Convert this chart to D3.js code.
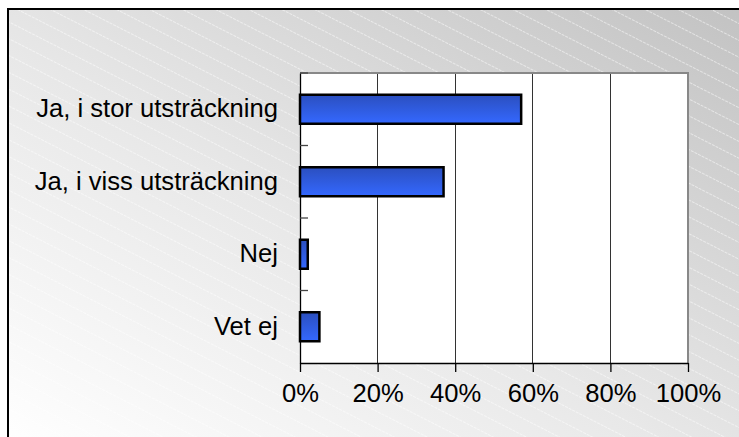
<!DOCTYPE html>
<html><head><meta charset="utf-8">
<script src="https://cdn.jsdelivr.net/npm/d3@7"></script>
<style>html,body{margin:0;padding:0;background:#fff;overflow:hidden}</style>
</head><body>
<svg id="c" width="739" height="437"></svg>
<script>
const categories = ["Ja, i stor utsträckning", "Ja, i viss utsträckning", "Nej", "Vet ej"];
const values = [0.57, 0.37, 0.02, 0.05];
const tickValues = [0, 0.2, 0.4, 0.6, 0.8, 1.0];

const svg = d3.select("#c");
const W = 739, H = 437;
const defs = svg.append("defs");

const bg = defs.append("linearGradient").attr("id","bg")
  .attr("x1","0").attr("y1","1").attr("x2","1").attr("y2","0");
bg.append("stop").attr("offset","0").attr("stop-color","#ffffff");
bg.append("stop").attr("offset","0.45").attr("stop-color","#e8e8e8");
bg.append("stop").attr("offset","1").attr("stop-color","#c2c2c2");

const pat = defs.append("pattern").attr("id","stripes")
  .attr("patternUnits","userSpaceOnUse").attr("width",16).attr("height",15)
  .attr("patternTransform","rotate(27)");
pat.append("line").attr("x1",0).attr("y1",0.5).attr("x2",16).attr("y2",0.5)
  .attr("stroke","#ffffff").attr("stroke-width",1).attr("stroke-opacity",0.5)
  .attr("stroke-dasharray","3,1");

const barGrad = defs.append("linearGradient").attr("id","bar")
  .attr("x1","0").attr("y1","0").attr("x2","0").attr("y2","1");
barGrad.append("stop").attr("offset","0").attr("stop-color","#2b4fbf");
barGrad.append("stop").attr("offset","1").attr("stop-color","#3468ff");

// background frame
svg.append("rect").attr("x",8).attr("y",9).attr("width",W).attr("height",H)
  .attr("fill","url(#bg)").attr("stroke","#000").attr("stroke-width",2);
svg.append("rect").attr("x",9).attr("y",10).attr("width",W).attr("height",H)
  .attr("fill","url(#stripes)");

const m = {left:300, right:688, top:73, bottom:363};
const x = d3.scaleLinear().domain([0,1]).range([m.left, m.right]);
const y = d3.scaleBand().domain(categories).range([m.top, m.bottom]).paddingInner(0.6).paddingOuter(0.3);

const FONT = "Liberation Sans, Arial, Helvetica, sans-serif";
const FS = 25.6;

// plot area
svg.append("rect").attr("x",m.left).attr("y",m.top).attr("width",m.right-m.left).attr("height",m.bottom-m.top)
  .attr("fill","#fff");

// gridlines
svg.append("g").selectAll("line").data(tickValues.slice(1,-1)).join("line")
  .attr("x1",d=>x(d)).attr("x2",d=>x(d)).attr("y1",m.top).attr("y2",m.bottom)
  .attr("stroke","#333").attr("stroke-width",1).attr("shape-rendering","crispEdges");

// top & right border gray
svg.append("path").attr("d",`M${m.left},${m.top}H${m.right}V${m.bottom}`)
  .attr("fill","none").attr("stroke","#888").attr("stroke-width",2);

// x axis
const xAxis = d3.axisBottom(x).tickValues(tickValues).tickFormat(d3.format(".0%"))
  .tickSizeInner(9).tickSizeOuter(0).tickPadding(12);
const gx = svg.append("g").attr("transform",`translate(0,${m.bottom})`).call(xAxis)
  .attr("font-family",FONT).attr("font-size",FS);
gx.select(".domain").attr("stroke","#000").attr("stroke-width",1.3);
gx.selectAll(".tick line").attr("stroke","#000").attr("stroke-width",1.3);
gx.selectAll("text").style("font-family",FONT).style("font-size",FS+"px").attr("fill","#000");

// y axis
const yAxis = d3.axisLeft(y).tickSize(0).tickPadding(22);
const gy = svg.append("g").attr("transform",`translate(${m.left},0)`).call(yAxis)
  .attr("font-family",FONT).attr("font-size",FS);
gy.select(".domain").attr("stroke","#000").attr("stroke-width",1.3);
gy.selectAll("text").style("font-family",FONT).style("font-size",FS+"px").attr("fill","#000");
// band boundary ticks (inside)
const bounds = d3.range(categories.length+1).map(i => m.top + i*(m.bottom-m.top)/categories.length);
svg.append("g").selectAll("line").data(bounds.slice(0,-1)).join("line")
  .attr("x1",m.left).attr("x2",m.left+8).attr("y1",d=>d).attr("y2",d=>d)
  .attr("stroke","#444").attr("stroke-width",1.3);

// bars
svg.append("g").selectAll("rect").data(values).join("rect")
  .attr("x",x(0)).attr("y",(d,i)=>y(categories[i]))
  .attr("width",d=>x(d)-x(0)).attr("height",y.bandwidth())
  .attr("fill","url(#bar)").attr("stroke","#000").attr("stroke-width",2.5);
</script>
</body></html>
